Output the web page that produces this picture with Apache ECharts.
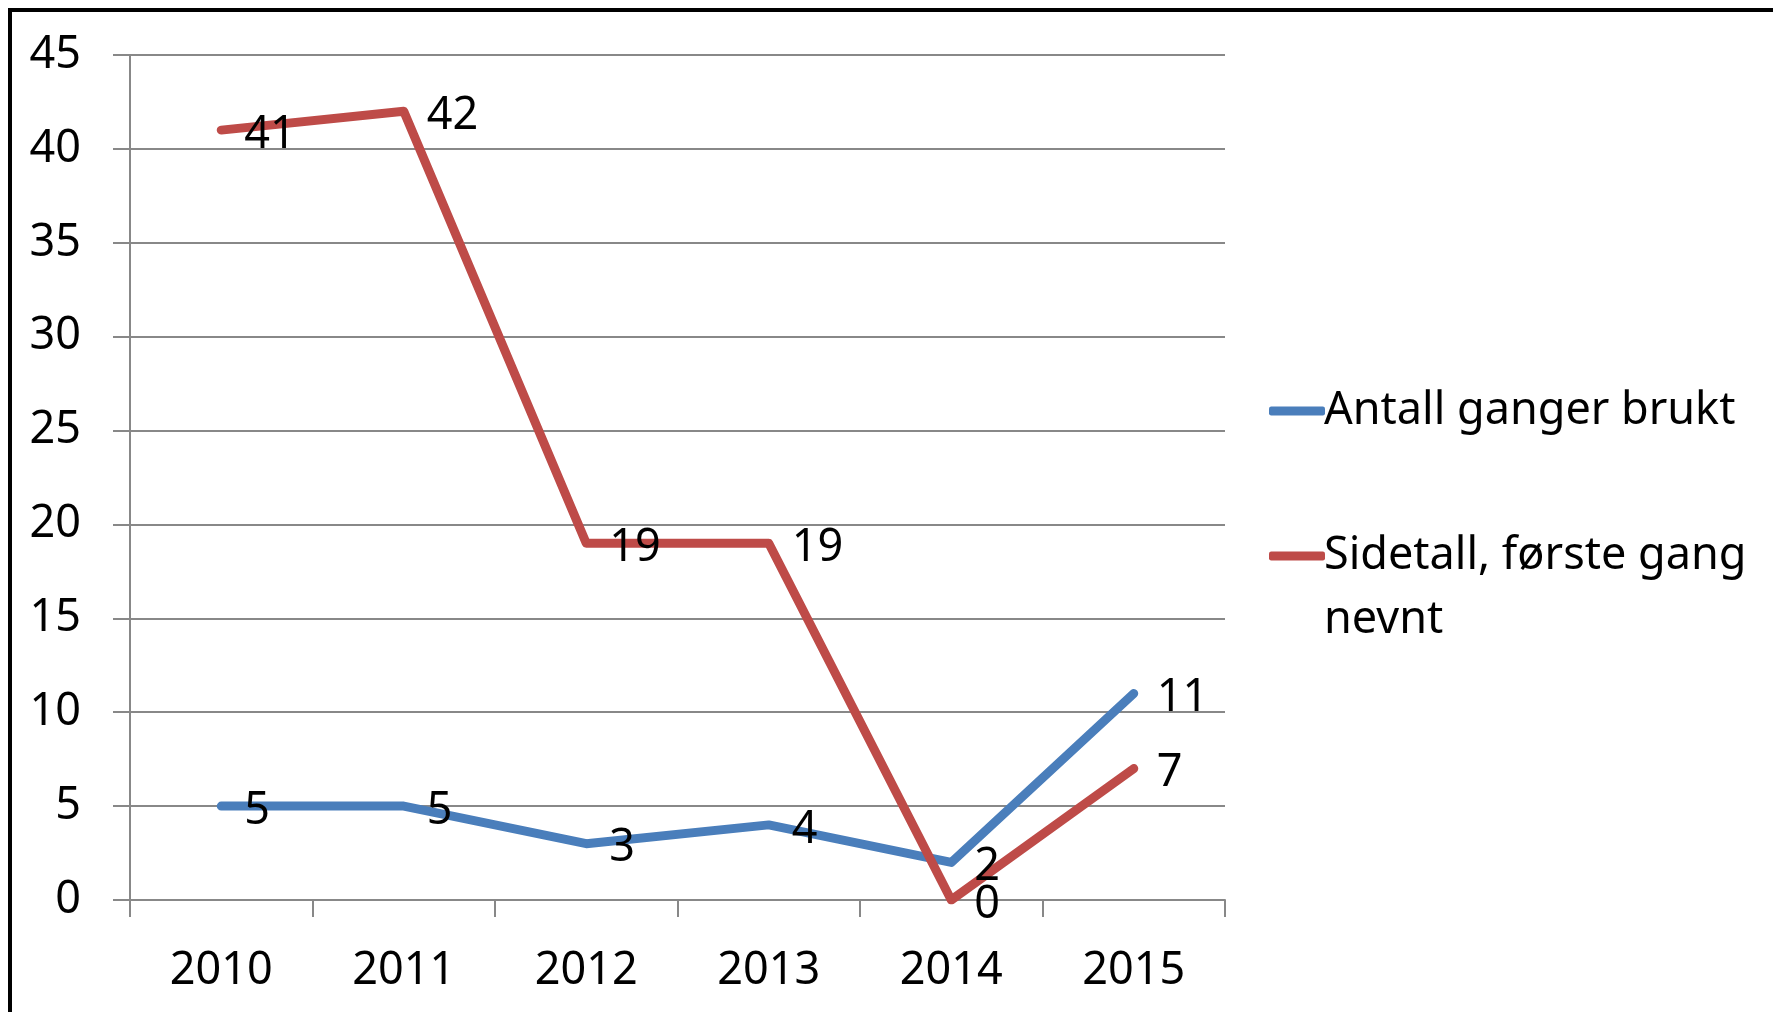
<!DOCTYPE html>
<html>
<head>
<meta charset="utf-8">
<script src="https://cdn.jsdelivr.net/npm/echarts@6/dist/echarts.min.js"></script>
<style>
  html, body { margin: 0; padding: 0; background: #fff; }
  #frame { position: absolute; left: 8px; top: 8px; width: 1800px; height: 1100px;
           border-left: 4px solid #000; border-top: 4px solid #000; box-sizing: border-box; }
  #chart { position: absolute; left: 0; top: 0; width: 1773px; height: 1012px; }
</style>
</head>
<body>
<div id="frame"></div>
<div id="chart"></div>
<script>
const years = ['2010', '2011', '2012', '2013', '2014', '2015'];
const antallGangerBrukt = [5, 5, 3, 4, 2, 11];
const sidetallForsteGang = [41, 42, 19, 19, 0, 7];
const yTicks = { min: 0, max: 45, interval: 5 };
const seriesNames = ['Antall ganger brukt', 'Sidetall, første gang nevnt'];

const FONT = 'Noto Sans';
const FS = 45;
const chart = echarts.init(document.getElementById('chart'), null, { renderer: 'canvas' });

const labelCfg = {
  show: true, position: 'right', distance: 22, offset: [0, 5],
  color: '#000', fontFamily: FONT, fontSize: FS
};

chart.setOption({
  animation: false,
  grid: { left: 130, right: 548, top: 55, bottom: 112, containLabel: false },
  xAxis: {
    type: 'category', data: years, boundaryGap: true,
    axisLine: { show: true, lineStyle: { color: '#888', width: 2 } },
    axisTick: { show: true, length: 17, alignWithLabel: false, lineStyle: { color: '#888', width: 2 } },
    axisLabel: { margin: 49, color: '#000', fontFamily: FONT, fontSize: FS },
    splitLine: { show: false }
  },
  yAxis: {
    type: 'value', min: yTicks.min, max: yTicks.max, interval: yTicks.interval,
    axisLine: { show: true, lineStyle: { color: '#888', width: 2 } },
    axisTick: { show: true, length: 17, lineStyle: { color: '#888', width: 2 } },
    axisLabel: { margin: 49, color: '#000', fontFamily: FONT, fontSize: FS },
    splitLine: { show: true, lineStyle: { color: '#888', width: 2 } }
  },
  legend: {
    orient: 'vertical', left: 1264, top: 374,
    icon: 'roundRect', itemWidth: 56, itemHeight: 9, itemGap: 17,
    data: seriesNames,
    formatter: function (name) {
      return name === seriesNames[1] ? '\nSidetall, første gang\nnevnt' : name;
    },
    textStyle: { color: '#000', fontFamily: FONT, fontSize: FS, lineHeight: 64, padding: [0, 0, 0, -6] }
  },
  series: [
    {
      name: seriesNames[0], type: 'line', data: antallGangerBrukt,
      symbol: 'circle', symbolSize: 2, showSymbol: true, color: '#4A7EBB',
      itemStyle: { color: '#4A7EBB' },
      lineStyle: { width: 9, color: '#4A7EBB', cap: 'round', join: 'round' },
      label: labelCfg
    },
    {
      name: seriesNames[1], type: 'line', data: sidetallForsteGang,
      symbol: 'circle', symbolSize: 2, showSymbol: true, color: '#BE4B48',
      itemStyle: { color: '#BE4B48' },
      lineStyle: { width: 9, color: '#BE4B48', cap: 'round', join: 'round' },
      label: labelCfg
    }
  ]
});
</script>
</body>
</html>
